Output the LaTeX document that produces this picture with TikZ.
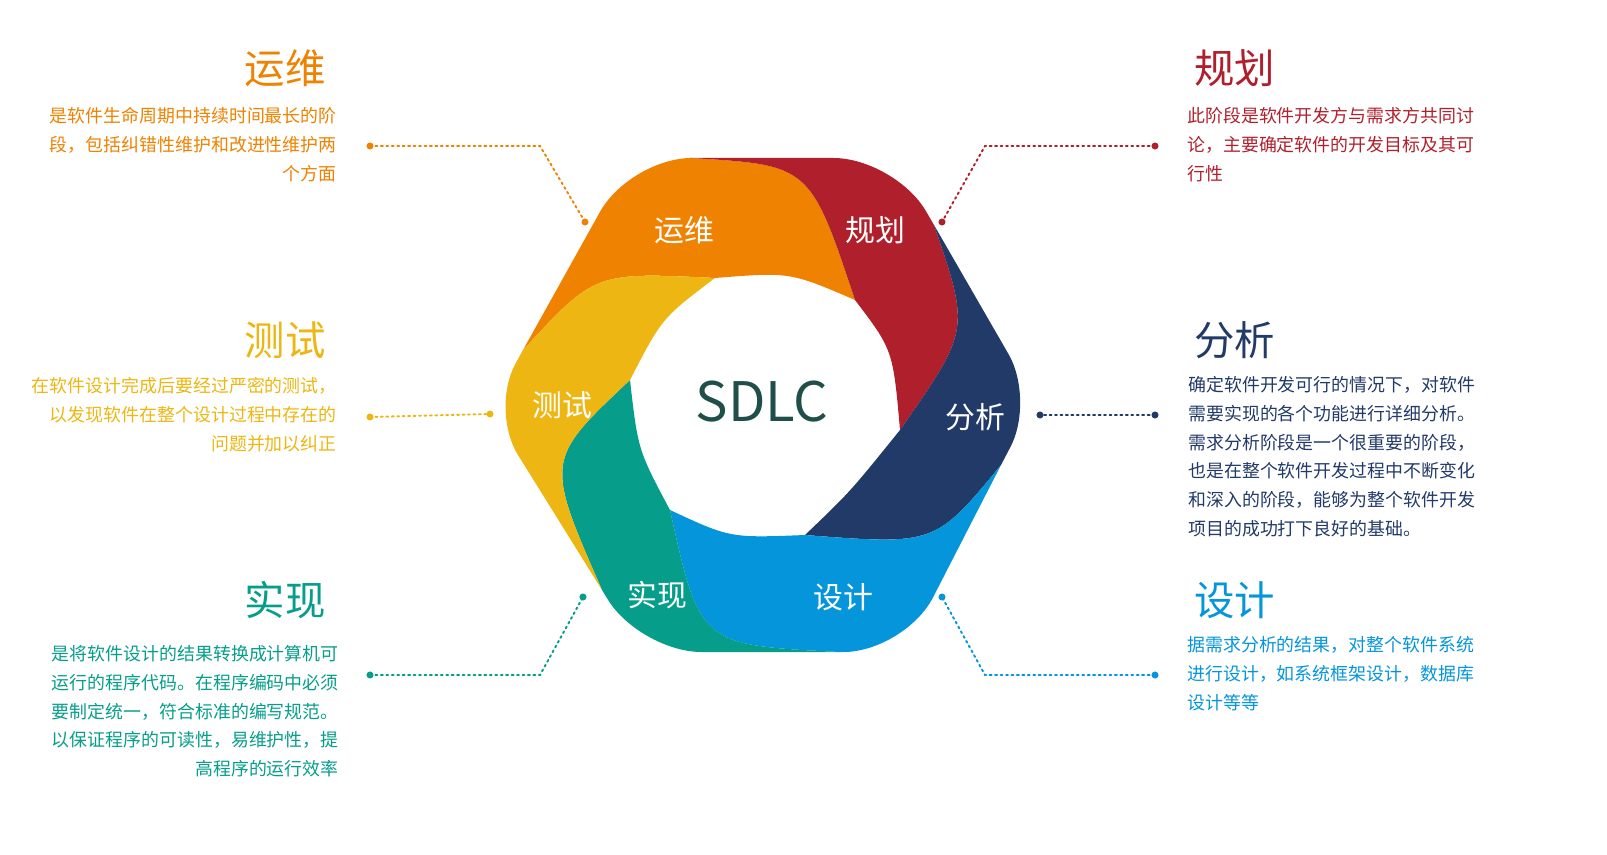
\documentclass[tikz,border=0pt]{standalone}
\usepackage{fontspec}
\setmainfont{Noto Sans CJK SC}
\newfontfamily\cjk{Noto Sans CJK SC}
\definecolor{cOr}{HTML}{EF8200}
\definecolor{cRe}{HTML}{B0202C}
\definecolor{cNa}{HTML}{223A68}
\definecolor{cBl}{HTML}{0595DA}
\definecolor{cTe}{HTML}{069E8A}
\definecolor{cYe}{HTML}{EDB612}
\definecolor{cSd}{HTML}{1F4F48}
\begin{document}
\begin{tikzpicture}[x=0.02cm,y=-0.02cm,
  petal/.style={white,font=\cjk\fontsize{17}{20}\selectfont},
  ttl/.style={font=\cjk\fontsize{23}{26}\selectfont},
  para/.style={font=\cjk\fontsize{10.2}{16.4}\selectfont,inner sep=0pt},
  dline/.style={dotted,line width=1.1pt,line cap=round},
  dotend/.style={circle,fill,inner sep=0pt,minimum size=4pt}]
\useasboundingbox (0,0) rectangle (1607,855);
% hexagon vertices
\coordinate (TL) at (630,158); \coordinate (TR) at (895,158);
\coordinate (R) at (1035,400); \coordinate (BR) at (905,652);
\coordinate (BL) at (640,652); \coordinate (L) at (490,410);
% outer split points
\coordinate (Q1) at (523,350); \coordinate (Q2) at (690,158);
\coordinate (Q3) at (934,225); \coordinate (Q4) at (1001,465);
\coordinate (Q5) at (840,652); \coordinate (Q6) at (602,590);
% inner points
\coordinate (P1) at (715,278); \coordinate (P2) at (855,300);
\coordinate (P3) at (900,430); \coordinate (P4) at (805,535);
\coordinate (P5) at (670,510); \coordinate (P6) at (630,380);
% petals
\fill[cOr] (Q1) [rounded corners=35] -- (TL) [sharp corners] -- (Q2)
  .. controls (810,165) .. (P2) .. controls (790,272) .. (P1) .. controls (595,272) .. (Q1) -- cycle;
\fill[cRe] (Q2) [rounded corners=35] -- (TR) [sharp corners] -- (Q3)
  .. controls (970,330) .. (P3) .. controls (893,350) .. (P2) .. controls (810,165) .. (Q2) -- cycle;
\fill[cNa] (Q3) [rounded corners=30] -- (R) [sharp corners] -- (Q4)
  .. controls (935,545) .. (P4) .. controls (850,492) .. (P3) .. controls (970,330) .. (Q3) -- cycle;
\fill[cBl] (Q4) [rounded corners=35] -- (BR) [sharp corners] -- (Q5)
  .. controls (700,645) .. (P5) .. controls (730,538) .. (P4) .. controls (935,545) .. (Q4) -- cycle;
\fill[cTe] (Q5) [rounded corners=35] -- (BL) [sharp corners] -- (Q6)
  .. controls (545,460) .. (P6) .. controls (638,450) .. (P5) .. controls (700,645) .. (Q5) -- cycle;
\fill[cYe] (Q6) [rounded corners=30] -- (L) [sharp corners] -- (Q1)
  .. controls (595,272) .. (P1) .. controls (662,318) .. (P6) .. controls (545,460) .. (Q6) -- cycle;
% petal labels
\node[petal] (l1) at (684,230) {运维};
\node[petal] (l2) at (875,230) {规划};
\node[petal] (l3) at (975,417) {分析};
\node[petal] (l4) at (843,597) {设计};
\node[petal] (l5) at (657,595) {实现};
\node[petal] (l6) at (562,405) {测试};
\node[cSd,font=\fontsize{31}{34}\selectfont] (sdlc) at (762,402) {SDLC};
% titles
\node[ttl,cOr,anchor=east] (t1) at (332,68) {运维};
\node[ttl,cYe,anchor=east] (t6) at (332,340) {测试};
\node[ttl,cTe,anchor=east] (t5) at (332,600) {实现};
\node[ttl,cRe,anchor=west] (t2) at (1188,68) {规划};
\node[ttl,cNa,anchor=west] (t3) at (1188,340) {分析};
\node[ttl,cBl,anchor=west] (t4) at (1188,600) {设计};
% paragraphs
\node[para,cOr,align=right,anchor=north east] (p1) at (337,107) {是软件生命周期中持续时间最长的阶\\段，包括纠错性维护和改进性维护两\\个方面};
\node[para,cYe,align=right,anchor=north east] (p6) at (337,377) {在软件设计完成后要经过严密的测试，\\以发现软件在整个设计过程中存在的\\问题并加以纠正};
\node[para,cTe,align=right,anchor=north east] (p5) at (339,645) {是将软件设计的结果转换成计算机可\\运行的程序代码。在程序编码中必须\\要制定统一，符合标准的编写规范。\\以保证程序的可读性，易维护性，提\\高程序的运行效率};
\node[para,cRe,align=left,anchor=north west] (p2) at (1187,107) {此阶段是软件开发方与需求方共同讨\\论，主要确定软件的开发目标及其可\\行性};
\node[para,cNa,align=left,anchor=north west] (p3) at (1188,376) {确定软件开发可行的情况下，对软件\\需要实现的各个功能进行详细分析。\\需求分析阶段是一个很重要的阶段，\\也是在整个软件开发过程中不断变化\\和深入的阶段，能够为整个软件开发\\项目的成功打下良好的基础。};
\node[para,cBl,align=left,anchor=north west] (p4) at (1187,636) {据需求分析的结果，对整个软件系统\\进行设计，如系统框架设计，数据库\\设计等等};
% connectors
\coordinate (a1) at (370,146); \coordinate (b1) at (540,146); \coordinate (c1) at (585,222);
\coordinate (a2) at (1155,146); \coordinate (b2) at (985,146); \coordinate (c2) at (942,222);
\coordinate (a3) at (1155,415); \coordinate (c3) at (1040,415);
\coordinate (a6) at (370,417); \coordinate (c6) at (490,414);
\coordinate (a4) at (1155,675); \coordinate (b4) at (985,675); \coordinate (c4) at (942,597);
\coordinate (a5) at (370,675); \coordinate (b5) at (540,675); \coordinate (c5) at (583,597);
\draw[dline,cOr] (a1) -- (b1) -- (c1);
\draw[dline,cRe] (a2) -- (b2) -- (c2);
\draw[dline,cNa] (a3) -- (c3);
\draw[dline,cYe] (a6) -- (c6);
\draw[dline,cBl] (a4) -- (b4) -- (c4);
\draw[dline,cTe] (a5) -- (b5) -- (c5);
\foreach \p/\c in {a1/cOr,c1/cOr,a2/cRe,c2/cRe,a3/cNa,c3/cNa,a6/cYe,c6/cYe,a4/cBl,c4/cBl,a5/cTe,c5/cTe}
  \node[dotend,\c] at (\p) {};
\end{tikzpicture}
\end{document}
